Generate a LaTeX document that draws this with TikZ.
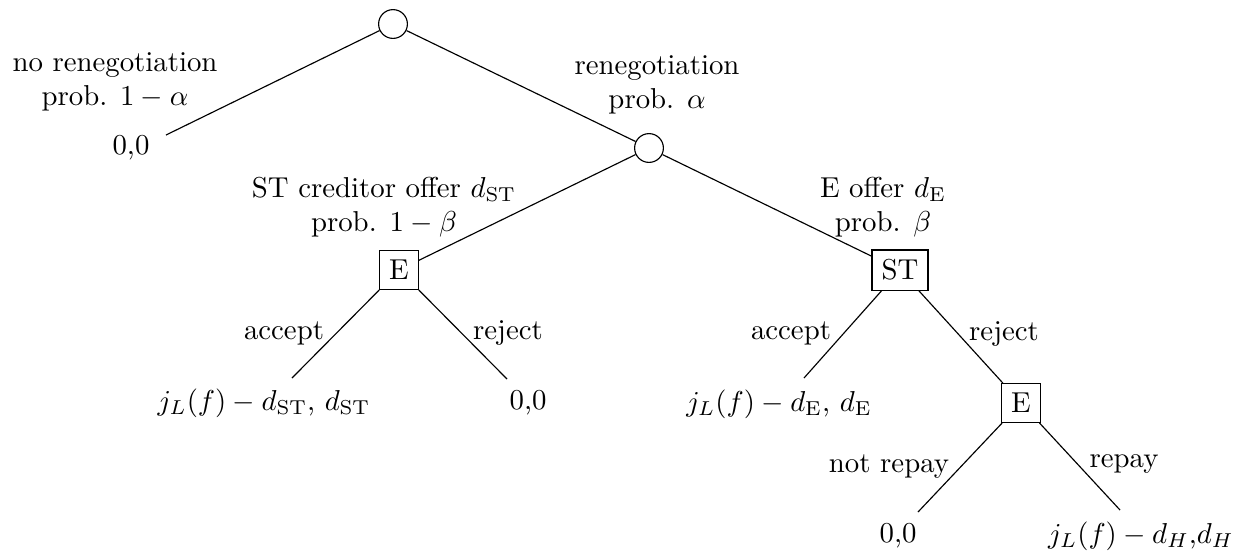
\documentclass[tikz,border=0pt]{standalone}
\begin{document}
\begin{tikzpicture}[x=0.3472pt,y=-0.3472pt,
  chance/.style={circle,draw,minimum size=10pt,inner sep=0pt},
  player/.style={rectangle,draw},
  lbl/.style={align=center},
  branch/.style={draw}
]
\useasboundingbox (0,0) rectangle (1239,550);
% decision nodes
\node[chance] (r) at (393,24) {};
\node[chance] (c) at (649,148) {};
\node[player] (e1) at (399,270) {E};
\node[player] (st) at (900,270) {ST};
\node[player] (e2) at (1021,403) {E};
% free ends of branches
\coordinate (l0) at (166,135);
\coordinate (a1) at (292,378);
\coordinate (r1) at (507,379);
\coordinate (a2) at (804,378);
\coordinate (n2) at (918,512);
\coordinate (p2) at (1120,510);
% branches
\path[branch] (r) -- (l0);
\path[branch] (r) -- (c);
\path[branch] (c) -- (e1);
\path[branch] (c) -- (st);
\path[branch] (e1) -- (a1);
\path[branch] (e1) -- (r1);
\path[branch] (st) -- (a2);
\path[branch] (st) -- (e2);
\path[branch] (e2) -- (n2);
\path[branch] (e2) -- (p2);
% branch labels
\node[lbl] (lnr) at (115,82) {no renegotiation\\prob. $1-\alpha$};
\node[lbl] (lr) at (657,85) {renegotiation\\prob. $\alpha$};
\node[lbl] (lst) at (384,207) {ST creditor offer $d_{\mathrm{ST}}$\\prob. $1-\beta$};
\node[lbl] (le) at (883,207) {E offer $d_{\mathrm{E}}$\\prob. $\beta$};
\node (acc1) at (284,333) {accept};
\node (rej1) at (508,333) {reject};
\node (acc2) at (791,333) {accept};
\node (rej2) at (1004,334) {reject};
\node (nrp) at (889,467) {not repay};
\node (rp) at (1124,464) {repay};
% payoffs
\node (o0) at (131,148) {0,0};
\node (o1) at (264,403) {$j_L(f)-d_{\mathrm{ST}}$, $d_{\mathrm{ST}}$};
\node (o2) at (528,403) {0,0};
\node (o3) at (779,404) {$j_L(f)-d_{\mathrm{E}}$, $d_{\mathrm{E}}$};
\node (o4) at (898,536) {0,0};
\node (o5) at (1141,536) {$j_L(f)-d_H$,$d_H$};
\end{tikzpicture}
\end{document}
